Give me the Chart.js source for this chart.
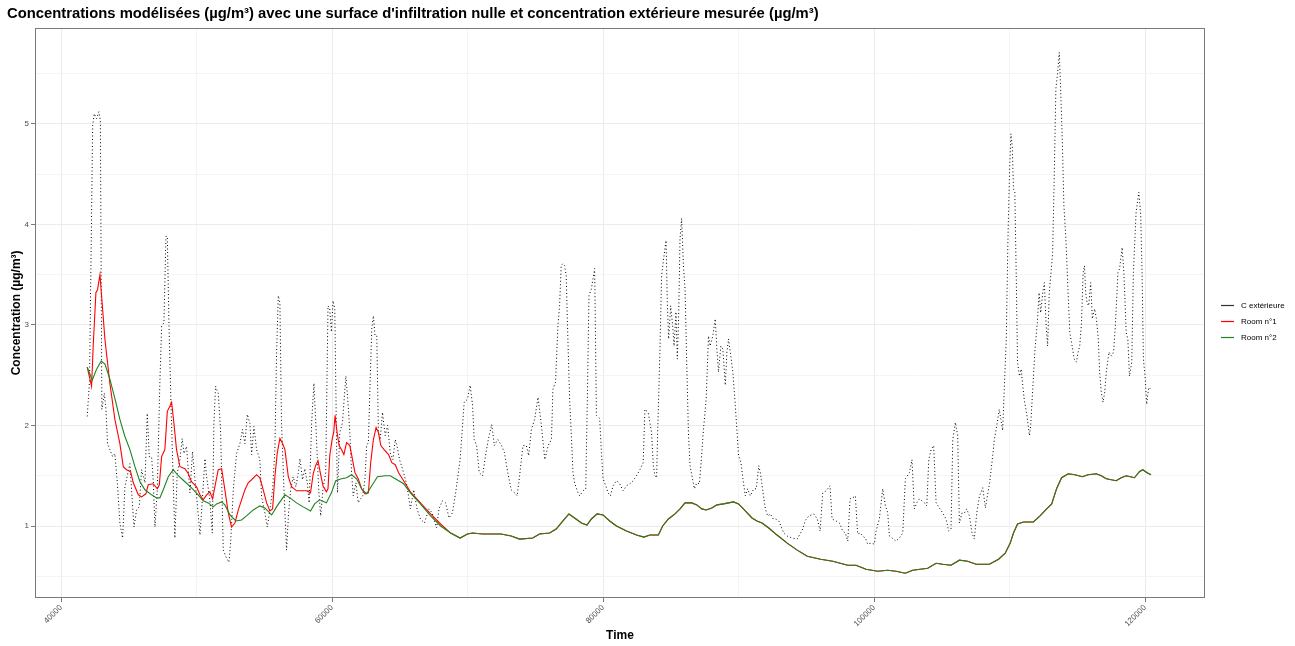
<!DOCTYPE html>
<html><head><meta charset="utf-8">
<script src="https://cdn.jsdelivr.net/npm/chart.js@4/dist/chart.umd.min.js"></script>
<style>html,body{margin:0;padding:0;background:#fff;}</style>
</head><body>
<canvas id="c" width="1295" height="646"></canvas>
<script>
// ---- data ----
const seriesLabels = ['C extérieure', 'Room n°1', 'Room n°2'];
const xMajorTicks = [40000, 60000, 80000, 100000, 120000];
const xMinorTicks = [50000, 70000, 90000, 110000];
const yMajorTicks = [1, 2, 3, 4, 5];
const yMinorTicks = [0.5, 1.5, 2.5, 3.5, 4.5, 5.5];

const outTime = [41930,42100,42330,42450,42620,42790,42900,43010,43190,43310,43430,43600,43800,43970,44150,44340,44540,44710,45080,45200,45380,45570,45770,45940,46190,46360,46510,46680,46800,46930,47100,47290,47420,47590,47740,47840,47960,48110,48280,48400,48570,48770,48940,49070,49260,49510,49700,49880,50050,50250,50440,50620,50740,50980,51160,51280,51400,51600,51770,51970,52210,52390,52510,52710,52950,53200,53390,53570,53740,53940,54060,54230,54430,54670,54800,55040,55220,55410,55610,55780,55900,56030,56150,56270,56450,56640,56790,56940,57130,57330,57500,57630,57820,57990,58170,58310,58490,58660,58830,59010,59160,59330,59530,59700,59830,59950,60070,60200,60320,60400,60570,60770,60890,61020,61190,61310,61440,61560,61760,61930,62110,62260,62430,62550,62680,62800,62930,63050,63170,63300,63420,63550,63720,63920,64100,64290,64490,64660,64790,64980,65280,65530,65780,66030,66270,66520,66820,67140,67390,67710,67890,68140,68380,68630,68880,69120,69450,69750,69990,70190,70370,70490,70670,70860,71110,71360,71530,71780,71980,72230,72470,72720,72970,73220,73470,73660,73840,74090,74340,74510,74710,74950,75200,75450,75700,75950,76190,76300,76490,76670,76790,76910,77040,77160,77280,77410,77530,77650,77780,77900,78150,78270,78520,78720,78840,78960,79140,79260,79380,79510,79750,79880,80000,80200,80370,80540,80740,80990,81190,81480,81730,81980,82220,82470,82720,82960,83090,83330,83580,83710,83830,83950,84030,84200,84320,84500,84650,84740,84840,84990,85140,85240,85380,85480,85580,85680,85800,85930,86050,86180,86300,86420,86600,86740,86920,87110,87290,87410,87610,87780,87900,88100,88280,88400,88520,88690,88840,89020,89140,89260,89390,89580,89760,90000,90180,90320,90500,90670,90870,91120,91310,91490,91610,91810,91980,92150,92350,92550,92720,92970,93340,93590,93960,94330,94700,94950,95190,95560,95810,96020,96210,96460,96750,96900,97200,97440,97690,97880,98060,98230,98430,98620,98790,98990,99160,99360,99530,99780,100020,100150,100390,100640,100840,101010,101130,101330,101620,101870,102120,102310,102610,102800,102970,103150,103350,103540,103720,103890,104040,104210,104400,104580,104820,105070,105310,105510,105680,105810,106000,106170,106300,106490,106670,106840,107040,107230,107400,107580,107780,108020,108220,108530,108700,108880,109070,109240,109360,109490,109610,109760,109880,110000,110100,110200,110290,110390,110490,110590,110730,110860,110950,111080,111270,111470,111560,111710,111880,112050,112180,112300,112450,112570,112690,112810,112930,113060,113180,113280,113420,113550,113670,113770,113890,114010,114160,114300,114450,114620,114770,114940,115060,115180,115310,115430,115530,115620,115720,115840,115990,116110,116280,116410,116550,116650,116770,116900,117020,117140,117340,117510,117680,117820,118000,118120,118310,118440,118610,118730,118850,119020,119140,119340,119540,119680,119780,119880,120000,120120,120270,120420];
const outConc = [2.09,2.45,4.98,5.10,5.05,5.12,5.03,2.16,2.32,2.16,1.82,1.76,1.69,1.72,1.43,1.03,0.88,1.39,1.62,1.36,0.99,1.16,1.19,1.56,1.43,2.12,1.69,1.69,1.46,0.99,1.36,2.42,2.99,3.02,3.88,3.88,3.02,2.22,1.43,0.88,1.52,1.66,1.87,1.72,1.79,1.33,1.74,1.46,1.23,0.91,1.29,1.67,1.49,1.26,0.93,2.02,2.39,2.32,1.96,0.76,0.68,0.64,0.83,1.36,1.72,1.82,1.96,1.82,2.11,2.02,1.71,1.99,1.76,1.66,1.29,1.13,0.99,1.16,1.36,1.76,2.69,3.29,3.22,2.02,1.36,0.76,1.13,1.36,1.49,1.39,1.52,1.67,1.46,1.57,1.43,1.23,2.02,2.42,1.93,1.37,1.10,1.37,1.53,3.19,3.16,2.93,3.24,3.16,1.93,1.33,1.93,2.03,2.26,2.49,2.20,1.93,1.53,1.30,1.43,1.23,1.27,1.30,1.47,1.80,1.83,2.40,2.96,3.09,2.89,2.89,1.93,1.86,2.13,1.90,2.00,1.73,1.66,1.86,1.80,1.66,1.53,1.40,1.17,1.36,1.17,1.07,1.03,1.17,1.13,0.98,1.17,1.25,1.23,1.08,1.13,1.33,1.66,2.23,2.26,2.40,2.20,1.86,1.80,1.53,1.50,1.73,1.86,2.01,1.80,1.86,1.81,1.73,1.53,1.36,1.33,1.30,1.50,1.80,1.80,1.70,1.96,2.06,2.28,2.00,1.66,1.80,1.86,2.36,2.43,2.99,3.19,3.59,3.61,3.59,3.49,2.83,2.26,1.93,1.53,1.43,1.33,1.30,1.35,1.37,2.26,3.29,3.36,3.46,3.56,2.10,2.07,1.73,1.47,1.40,1.33,1.30,1.40,1.45,1.43,1.35,1.40,1.42,1.45,1.50,1.56,1.63,2.16,2.13,1.93,1.60,1.50,1.48,1.93,2.76,3.49,3.69,3.84,3.23,2.86,3.19,2.99,2.79,3.13,2.66,3.09,3.86,4.06,3.59,3.36,2.59,1.93,1.60,1.47,1.37,1.43,1.42,1.73,1.96,2.26,2.89,2.79,2.89,3.06,2.76,2.53,2.79,2.76,2.40,2.73,2.86,2.73,2.53,2.20,1.70,1.63,1.47,1.30,1.37,1.30,1.37,1.37,1.60,1.53,1.33,1.17,1.10,1.12,1.07,1.07,1.05,0.93,0.90,0.88,0.87,0.96,1.06,1.10,1.12,1.07,0.95,1.33,1.35,1.40,1.07,1.05,1.03,0.95,0.93,0.85,1.27,1.28,1.30,0.92,0.93,0.90,0.88,0.82,0.83,0.82,0.95,1.07,1.37,1.20,1.13,0.90,0.88,0.85,0.88,0.93,1.47,1.53,1.66,1.17,1.23,1.27,1.25,1.23,1.20,1.66,1.76,1.80,1.23,1.18,1.13,1.07,0.95,0.97,1.86,2.03,1.90,1.03,1.13,1.13,1.17,1.10,0.93,0.87,1.13,1.30,1.38,1.18,1.43,1.63,1.86,2.01,2.16,2.06,1.95,2.36,2.86,3.85,4.52,4.90,4.78,4.35,4.32,3.52,2.63,2.49,2.56,2.43,2.26,2.11,1.90,2.00,2.36,2.76,3.02,3.32,3.12,3.32,3.42,3.02,2.79,3.32,3.52,3.72,4.35,5.35,5.51,5.71,5.35,4.85,4.19,3.85,3.39,2.92,2.79,2.66,2.63,2.73,2.79,3.02,3.52,3.59,3.32,3.22,3.19,3.42,3.06,3.16,3.06,2.86,2.53,2.33,2.23,2.33,2.53,2.73,2.69,2.73,3.02,3.52,3.56,3.77,3.52,2.92,2.86,2.49,2.63,3.52,4.12,4.32,4.09,3.52,2.66,2.49,2.21,2.38,2.36];

// Room n°1 – first part (differs from Room n°2)
const room1Time = [41930,42250,42370,42570,42690,42870,42960,43240,43600,43970,44340,44590,44830,45130,45330,45700,45940,46260,46430,46800,47100,47250,47420,47660,47840,48030,48160,48330,48520,48770,49140,49390,49630,50000,50250,50490,50740,50980,51180,51350,51600,51850,52090,52340,52580,52830,53080,53320,53570,53810,54060,54430,54670,54920,55170,55410,55610,55780,55950,56150,56350,56520,56770,57010,57380,57750,58120,58410,58610,58785,58960,59130,59330,59580,59700,59830,60000,60120,60220,60370,60520,60690,60870,61070,61310,61510,61690,61930,62180,62430,62680,62850,63050,63250,63420,63600,63840,64170,64410,64660,64910,65280,65780,66520,67270,68010,68750];
const room1Conc = [2.58,2.39,2.79,3.32,3.35,3.50,3.34,2.85,2.42,2.06,1.82,1.59,1.56,1.54,1.43,1.31,1.29,1.32,1.41,1.42,1.37,1.41,1.69,1.76,2.14,2.19,2.23,2.02,1.76,1.59,1.57,1.52,1.44,1.39,1.31,1.26,1.31,1.34,1.27,1.39,1.56,1.57,1.36,1.13,0.99,1.03,1.16,1.26,1.36,1.43,1.46,1.51,1.48,1.36,1.23,1.15,1.17,1.49,1.72,1.87,1.82,1.76,1.49,1.39,1.35,1.35,1.35,1.33,1.52,1.60,1.65,1.53,1.40,1.34,1.37,1.70,1.86,1.93,2.10,1.93,1.80,1.76,1.71,1.83,1.80,1.66,1.53,1.47,1.37,1.32,1.33,1.63,1.86,1.98,1.93,1.80,1.76,1.71,1.63,1.61,1.53,1.45,1.34,1.23,1.12,1.02,0.93];

// Room n°2 – first part
const room2Time = [41930,42300,42620,42960,43240,43600,43970,44340,44710,45080,45450,45820,46190,46680,47050,47290,47540,47910,48280,48650,49140,49630,50120,50490,50860,51230,51480,51850,52090,52460,52900,53320,53690,54180,54670,55040,55540,55900,56520,56890,57380,57870,58410,58710,59080,59580,59950,60270,60690,61070,61440,61810,62180,62550,62930,63350,63920,64290,64790,65280,65780,66520,67270,68010,68750];
const room2Conc = [2.58,2.45,2.56,2.64,2.61,2.46,2.27,2.06,1.89,1.76,1.59,1.44,1.36,1.31,1.28,1.28,1.36,1.49,1.56,1.50,1.44,1.38,1.31,1.25,1.23,1.19,1.22,1.24,1.21,1.11,1.05,1.06,1.10,1.16,1.20,1.18,1.11,1.19,1.31,1.28,1.23,1.19,1.15,1.22,1.26,1.23,1.33,1.45,1.47,1.48,1.51,1.47,1.37,1.32,1.40,1.49,1.50,1.50,1.46,1.42,1.33,1.22,1.10,1.00,0.93];

// Both rooms – common part (curves overlap)
const roomTime = [69450,69990,70370,71110,72470,73220,73840,74810,75310,76050,76540,77040,77480,77900,78400,78810,79140,79560,80000,80490,80990,81730,82470,83010,83460,83830,84080,84400,84820,85310,85680,86050,86550,86920,87290,87610,88030,88400,88890,89630,90000,90500,90990,91360,91730,92230,92840,93590,94330,95070,96060,96950,98060,98670,99410,100270,101010,101620,102310,102850,103960,104580,105070,105680,106300,106910,107530,108510,109190,109680,110050,110290,110590,111030,111760,112250,112740,113110,113470,113840,114330,114820,115380,115790,116410,116770,117140,117870,118240,118610,119220,119580,119830,120150,120440];
const roomConc = [0.88,0.92,0.93,0.92,0.92,0.90,0.87,0.88,0.92,0.93,0.97,1.05,1.12,1.08,1.03,1.01,1.07,1.12,1.11,1.05,1.00,0.95,0.91,0.89,0.91,0.91,0.91,1.00,1.07,1.12,1.17,1.23,1.23,1.21,1.17,1.16,1.18,1.21,1.22,1.24,1.22,1.15,1.08,1.05,1.03,0.98,0.91,0.83,0.76,0.70,0.67,0.65,0.61,0.61,0.57,0.55,0.56,0.55,0.53,0.56,0.58,0.63,0.62,0.61,0.66,0.65,0.62,0.62,0.67,0.73,0.83,0.93,1.02,1.04,1.04,1.10,1.17,1.22,1.37,1.48,1.52,1.51,1.49,1.51,1.52,1.50,1.47,1.45,1.48,1.50,1.48,1.54,1.56,1.53,1.51];

// ---- chart ----
const FONT = "'Liberation Sans', Arial, Helvetica, sans-serif";
const COLORS = ['#000000', '#FF0000', '#1E821E'];
const pts = (xs, ys) => xs.map((x, i) => ({x: x, y: ys[i]}));
const isIn = (arr, v) => arr.some(a => Math.abs(a - v) < 1e-6);

const bgPlugin = {
  id: 'bg',
  beforeDraw(chart) {
    const c = chart.ctx;
    c.save(); c.fillStyle = '#fff'; c.fillRect(0, 0, chart.width, chart.height); c.restore();
  },
  afterDraw(chart) {
    const c = chart.ctx, a = chart.chartArea;
    c.save();
    c.strokeStyle = '#7A7A7A'; c.lineWidth = 1;
    c.strokeRect(Math.round(a.left) + 0.5, Math.round(a.top) + 0.5, Math.round(a.right - a.left) - 1, Math.round(a.bottom - a.top) - 1);
    // legend
    c.font = '8px ' + FONT; c.textBaseline = 'middle'; c.textAlign = 'left';
    seriesLabels.forEach((lab, i) => {
      const y = 305 + 16 * i;
      c.strokeStyle = i === 0 ? '#333333' : COLORS[i]; c.lineWidth = 1.2; c.setLineDash([]);
      c.beginPath(); c.moveTo(1221, y + 0.5); c.lineTo(1234, y + 0.5); c.stroke();
      c.fillStyle = '#000'; c.fillText(lab, 1241, y + 0.5);
    });
    c.restore();
  }
};

new Chart(document.getElementById('c'), {
  type: 'line',
  data: {
    datasets: [
      {label: seriesLabels[0], data: pts(outTime, outConc), borderColor: COLORS[0], borderWidth: 1, borderDash: [1, 2.5], pointRadius: 0, tension: 0, order: 2},
      {label: seriesLabels[1], data: pts(room1Time.concat(roomTime), room1Conc.concat(roomConc)), borderColor: COLORS[1], borderWidth: 1.1, pointRadius: 0, tension: 0, order: 1},
      {label: seriesLabels[2], data: pts(room2Time.concat(roomTime), room2Conc.concat(roomConc)), borderColor: COLORS[2], borderWidth: 1.1, pointRadius: 0, tension: 0, order: 0}
    ]
  },
  options: {
    responsive: false, animation: false, devicePixelRatio: 1,
    layout: {padding: {left: 7, right: 90, top: 0, bottom: 0}, autoPadding: false},
    plugins: {
      legend: {display: false}, tooltip: {enabled: false},
      title: {display: true, align: 'start', text: "Concentrations modélisées (µg/m³) avec une surface d'infiltration nulle et concentration extérieure mesurée (µg/m³)",
        color: '#000', font: {family: FONT, size: 14.8, weight: 'bold'}, padding: {top: 5, bottom: 5}}
    },
    scales: {
      x: {
        type: 'linear', min: 38075, max: 124425,
        afterBuildTicks: s => { s.ticks = xMajorTicks.concat(xMinorTicks).sort((a, b) => a - b).map(v => ({value: v})); },
        afterFit: s => { s.height = 48; },
        ticks: {autoSkip: false, minRotation: 45, maxRotation: 45, color: '#4D4D4D', font: {family: FONT, size: 8}, padding: 1,
          callback: v => isIn(xMajorTicks, v) ? String(v) : ''},
        grid: {color: c => isIn(xMajorTicks, c.tick ? c.tick.value : NaN) ? '#EBEBEB' : '#F4F4F4', lineWidth: 1, tickLength: 4,
          tickColor: c => isIn(xMajorTicks, c.tick ? c.tick.value : NaN) ? '#7A7A7A' : 'rgba(0,0,0,0)'},
        border: {display: false},
        title: {display: true, text: 'Time', color: '#000', font: {family: FONT, size: 12, weight: 'bold'}, padding: {top: 0, bottom: 3}}
      },
      y: {
        type: 'linear', min: 0.284, max: 5.955,
        afterBuildTicks: s => { s.ticks = yMinorTicks.concat(yMajorTicks).sort((a, b) => a - b).map(v => ({value: v})); },
        afterFit: s => { s.width = 28; },
        ticks: {autoSkip: false, color: '#4D4D4D', font: {family: FONT, size: 8}, padding: 2,
          callback: v => isIn(yMajorTicks, v) ? String(v) : ''},
        grid: {color: c => isIn(yMajorTicks, c.tick ? c.tick.value : NaN) ? '#EBEBEB' : '#F4F4F4', lineWidth: 1, tickLength: 4,
          tickColor: c => isIn(yMajorTicks, c.tick ? c.tick.value : NaN) ? '#7A7A7A' : 'rgba(0,0,0,0)'},
        border: {display: false},
        title: {display: true, text: 'Concentration (µg/m³)', color: '#000', font: {family: FONT, size: 12, weight: 'bold'}, padding: {top: 2, bottom: 0}}
      }
    }
  },
  plugins: [bgPlugin]
});
</script>
</body></html>
